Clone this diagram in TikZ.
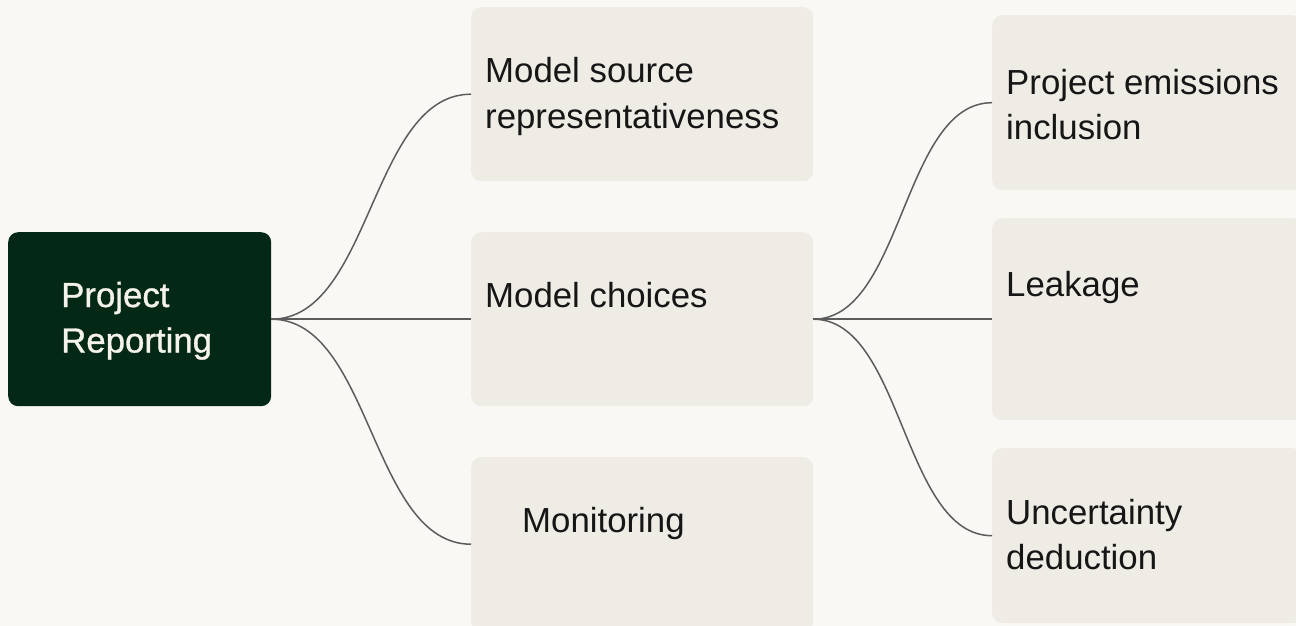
\documentclass[tikz,border=0pt]{standalone}
\usepackage{fontspec}
\setmainfont{Liberation Sans}
\newfontfamily\rootfont{Liberation Sans}[FakeBold=1.0]
\definecolor{pagebg}{HTML}{F9F8F4}
\definecolor{boxfill}{HTML}{EEECE5}
\definecolor{rootfill}{HTML}{032816}
\definecolor{roottext}{HTML}{F4F2EA}
\definecolor{linkcol}{HTML}{5C5C5C}
\definecolor{ink}{HTML}{161616}
% two stacked lines whose baseline is that of the first line
\newcommand{\twoline}[2]{\vtop{\baselineskip=45.5pt\hbox{#1}\hbox{#2}}}
\tikzset{
  leaf/.style={fill=boxfill, draw=none, rounded corners=10pt, inner sep=0pt, anchor=north west},
  rootbox/.style={fill=rootfill, draw=none, rounded corners=10pt, inner sep=0pt, anchor=north west},
  label/.style={inner sep=0pt, anchor=base west, text=ink, font=\fontsize{34.8}{45.5}\selectfont},
  rootlabel/.style={inner sep=0pt, anchor=base west, text=roottext, font=\rootfont\fontsize{34.8}{45.5}\selectfont},
  link/.style={draw=linkcol, line width=1.5pt}
}
\begin{document}
\begin{tikzpicture}[x=1pt, y=-1pt]
  \useasboundingbox (0,0) rectangle (1296,626);
  \fill[pagebg] (0,0) rectangle (1296,626);
  \begin{scope}
    \clip (0,0) rectangle (1296,626);
    % boxes
    \node[rootbox, minimum width=263pt, minimum height=174pt] (root) at (8,232) {};
    \node[leaf, minimum width=342pt, minimum height=174pt] (m1) at (471,7) {};
    \node[leaf, minimum width=342pt, minimum height=174pt] (m2) at (471,232) {};
    \node[leaf, minimum width=342pt, minimum height=174pt] (m3) at (471,457) {};
    \node[leaf, minimum width=310pt, minimum height=175pt] (r1) at (992,15) {};
    \node[leaf, minimum width=310pt, minimum height=202pt] (r2) at (992,218) {};
    \node[leaf, minimum width=310pt, minimum height=175pt] (r3) at (992,448) {};
    % connectors
    \draw[link] (root.east) .. controls +(100,0) and +(-100,0) .. (m1.west);
    \draw[link] (root.east) -- (m2.west);
    \draw[link] (root.east) .. controls +(100,0) and +(-100,0) .. (m3.west);
    \draw[link] (m2.east) .. controls +(89.5,0) and +(-89.5,0) .. (r1.west);
    \draw[link] (m2.east) -- (r2.west);
    \draw[link] (m2.east) .. controls +(89.5,0) and +(-89.5,0) .. (r3.west);
  \end{scope}
  % texts
  \node[rootlabel] (troot) at (61,307) {\twoline{Project}{Reporting}};
  \node[label] (tm1) at (485,83) {\twoline{Model source}{representativeness}};
  \node[label] (tm2) at (485,307) {Model choices};
  \node[label] (tm3) at (522,532) {Monitoring};
  \node[label] (tr1) at (1006,94) {\twoline{Project emissions}{inclusion}};
  \node[label] (tr2) at (1006,296) {Leakage};
  \node[label] (tr3) at (1006,524) {\twoline{Uncertainty}{deduction}};
\end{tikzpicture}
\end{document}
